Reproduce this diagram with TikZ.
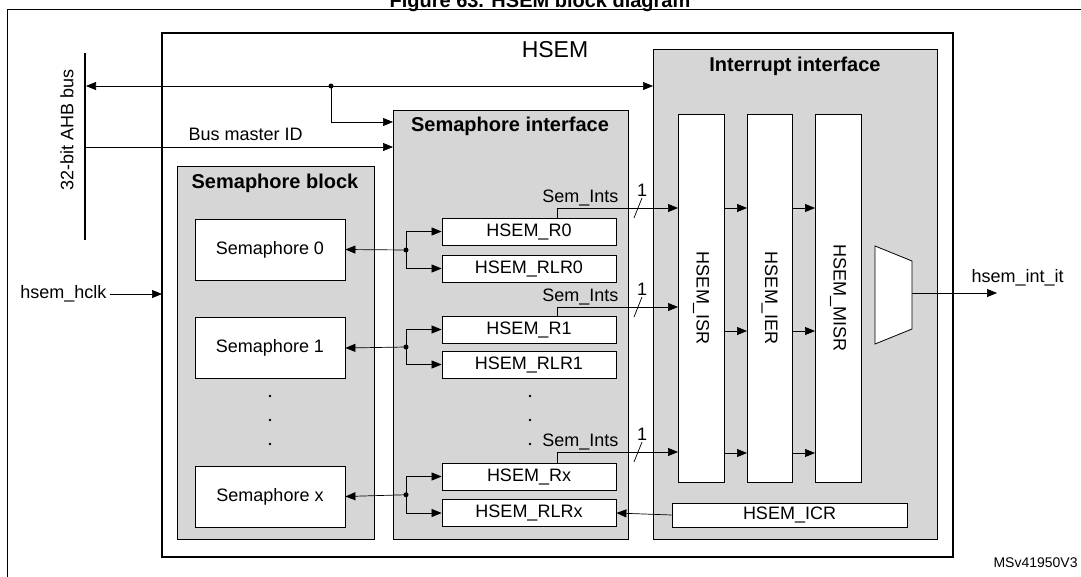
\documentclass[tikz,border=0pt]{standalone}
\usepackage{fontspec}
\setmainfont{Liberation Sans}
\usetikzlibrary{arrows.meta}
\tikzset{
  box/.style={draw, fill=white, line width=0.8pt},
  grey/.style={draw, fill=black!16, line width=1pt},
  sig/.style={line width=0.7pt, -{Triangle[length=10pt,width=8pt]}},
  txt/.style={font=\fontsize{18}{20}\selectfont},
  ttl/.style={font=\bfseries\fontsize{20}{22}\selectfont}
}
\begin{document}
\begin{tikzpicture}[x=1pt,y=-1pt]
\useasboundingbox (0,0) rectangle (1081,576);
\begin{scope}
\clip (0,0) rectangle (1081,576);
\node[font=\bfseries\fontsize{20}{22}\selectfont, anchor=base] (title) at (540,7) {Figure 63. HSEM block diagram};
\draw[line width=1pt] (7,9) rectangle (1095,595);
\node[font=\fontsize{14}{16}\selectfont, anchor=base west] (ref) at (990,567) {MSv41950V3};
\end{scope}
%-------------- frames --------------------
\draw[line width=1.8pt] (162,33) rectangle (953,557);
\node[font=\fontsize{23}{25}\selectfont] (hsem) at (555,50) {HSEM};
\draw[grey] (177,166) rectangle (374,539);
\node[ttl] (sbt) at (275,183) {Semaphore block};
\draw[grey] (393,110) rectangle (628,539);
\node[ttl] (sit) at (510,126) {Semaphore interface};
\draw[grey] (653,49) rectangle (937,539);
\node[ttl] (iit) at (795,66) {Interrupt interface};
%-------------- bus --------------------
\draw[line width=2.5pt] (85,53) -- (85,240);
\node[txt, rotate=90] (bus) at (67,130) {32-bit AHB bus};
\coordinate (busL) at (86,86);
\coordinate (busR) at (653,86);
\coordinate (busD) at (331,86);
\coordinate (siA) at (393,122);
\coordinate (idL) at (86,147);
\coordinate (siB) at (393,147);
\draw[sig, {Triangle[length=10pt,width=8pt]}-{Triangle[length=10pt,width=8pt]}] (busL) -- (busR);
\fill (busD) circle (2.5pt);
\draw[sig] (busD) |- (siA);
\draw[sig] (idL) -- (siB);
\node[txt, anchor=base west] (bmid) at (185,140) {Bus master ID};
\coordinate (clkL) at (110,294);
\coordinate (clkR) at (162,294);
\node[txt, anchor=east] (clk) at (clkL) {hsem\_hclk};
\draw[sig] (clkL) -- (clkR);
%-------------- semaphores --------------------
\node[box, txt, minimum width=150, minimum height=61] (S0) at (270,249.5) {Semaphore 0};
\node[box, txt, minimum width=150, minimum height=61] (S1) at (270,348) {Semaphore 1};
\node[box, txt, minimum width=150, minimum height=61] (Sx) at (270,496.5) {Semaphore x};
\foreach \y in {396,420,444} {
  \fill (270,\y) circle (1.3pt);
  \fill (530,\y) circle (1.3pt);
}
\foreach \n/\r/\l/\ya/\yb/\ys in {0/R0/RLR0/231.5/268.5/208, 1/R1/RLR1/329.5/364.5/307, x/Rx/RLRx/476.5/513/452} {
  \node[box, txt, minimum width=174, minimum height=27, inner sep=1pt] (R\n) at (529,\ya) {HSEM\_\r};
  \node[box, txt, minimum width=174, minimum height=27, inner sep=1pt] (L\n) at (529,\yb) {HSEM\_\l};
  \coordinate (J\n) at (406,{(\ya+\yb)/2});
  \fill (J\n) circle (2.5pt);
  \draw[sig, {Triangle[length=10pt,width=8pt]}-] (S\n.east) -- (J\n);
  \draw[sig] (J\n) |- (R\n.west);
  \draw[sig] (J\n) |- (L\n.west);
  \coordinate (T\n) at (557,\ys);
  \coordinate (I\n) at (678,\ys);
  \draw[sig] (R\n.north -| T\n) -- (T\n) -- (I\n);
  \draw[line width=0.7pt] (634,\ys+10) -- (642,\ys-10);
  \node[txt, anchor=base east] (si\n) at (622,\ys-6) {Sem\_Ints};
  \node[txt, anchor=base] (one\n) at (642,\ys-12) {1};
}
%-------------- interrupt registers --------------------
\node[box, minimum width=46, minimum height=368] (isr) at (701,298) {};
\node[box, minimum width=45, minimum height=368] (ier) at (769.5,298) {};
\node[box, minimum width=46, minimum height=368] (misr) at (838,298) {};
\node[txt, rotate=-90] at (isr) {HSEM\_ISR};
\node[txt, rotate=-90] at (ier) {HSEM\_IER};
\node[txt, rotate=-90] at (misr) {HSEM\_MISR};
\foreach \y in {208,331,453} {
  \draw[sig] (724,\y) -- (747,\y);
  \draw[sig] (792,\y) -- (815,\y);
}
\draw[box] (875,246) -- (912,261) -- (912,329) -- (875,344) -- cycle;
\coordinate (mo) at (912,293);
\coordinate (out) at (997,293);
\draw[sig] (mo) -- (out);
\node[txt, anchor=base west] (intit) at (968,282) {hsem\_int\_it};
\node[box, txt, minimum width=235, minimum height=24, inner sep=1pt] (icr) at (789.5,515) {HSEM\_ICR};
\draw[sig] (icr.west) -- (Lx.east);
\end{tikzpicture}
\end{document}
